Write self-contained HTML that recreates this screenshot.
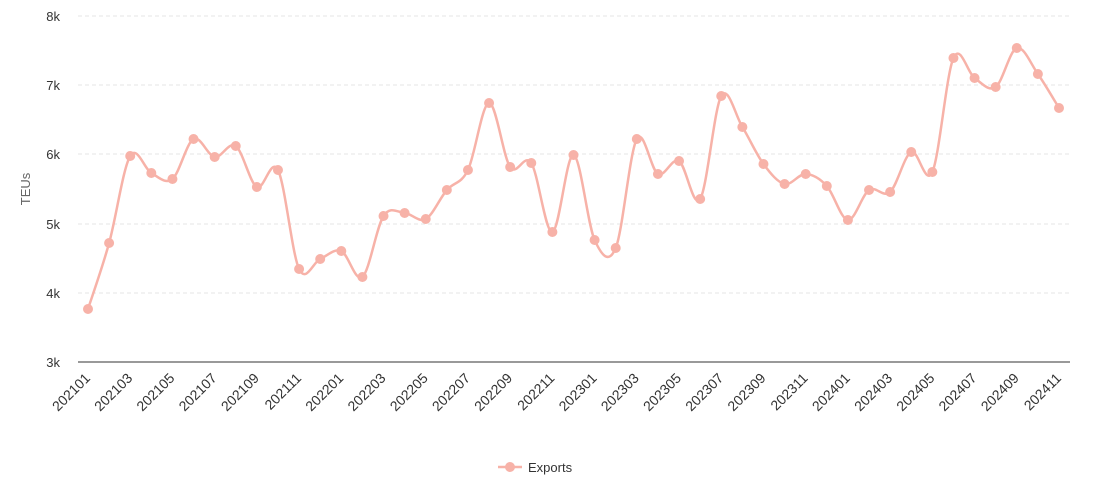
<!DOCTYPE html>
<html><head><meta charset="utf-8"><style>
body{margin:0;background:#fff;}
svg text{font-family:"Liberation Sans",sans-serif;font-size:13px;fill:#333;}
#xl text{font-size:14px;}
</style></head><body>
<svg id="s" width="1098" height="482" xmlns="http://www.w3.org/2000/svg">
<g stroke="#e6e6e6" stroke-dasharray="4,3">
<line x1="78" x2="1070" y1="16" y2="16"/><line x1="78" x2="1070" y1="85" y2="85"/>
<line x1="78" x2="1070" y1="154" y2="154"/><line x1="78" x2="1070" y1="224" y2="224"/>
<line x1="78" x2="1070" y1="293" y2="293"/>
</g>
<line x1="78" x2="1070" y1="362" y2="362" stroke="#333" stroke-width="1"/>
<g text-anchor="end">
<text x="60" y="21">8k</text><text x="60" y="90">7k</text><text x="60" y="159">6k</text>
<text x="60" y="229">5k</text><text x="60" y="298">4k</text><text x="60" y="367">3k</text>
</g>
<text x="30" y="189" text-anchor="middle" transform="rotate(-90,30,189)" style="fill:#666">TEUs</text>
<g id="xl" text-anchor="end"></g>
<path id="ln" fill="none" stroke="#f7b2a8" stroke-width="2.5"/>
<g id="pts" fill="#f7b2a8"></g>
<line x1="498" x2="522" y1="467" y2="467" stroke="#f7b2a8" stroke-width="2.5"/>
<circle cx="510" cy="467" r="5" fill="#f7b2a8"/>
<text x="528" y="472">Exports</text>
</svg>
<script>
var ys=[309,243,156,173,179,139,157,146,187,170,269,259,251,277,216,213,219,190,170,103,167,163,232,155,240,248,139,174,161,199,96,127,164,184,174,186,220,190,192,152,172,58,78,87,48,74,108];
var p=ys.map(function(y,i){return [88+i*(1059-88)/46,y];});
var d="M"+p[0][0]+","+p[0][1];
for(var i=0;i<p.length-1;i++){var a=p[i-1]||p[i],b=p[i],c=p[i+1],e=p[i+2]||c;
var k=1/6;d+=" C"+(b[0]+(c[0]-a[0])*k)+","+(b[1]+(c[1]-a[1])*k)+" "+(c[0]-(e[0]-b[0])*k)+","+(c[1]-(e[1]-b[1])*k)+" "+c[0]+","+c[1];}
document.getElementById("ln").setAttribute("d",d);
var ns="http://www.w3.org/2000/svg",g=document.getElementById("pts"),xl=document.getElementById("xl");
p.forEach(function(q,i){var c=document.createElementNS(ns,"circle");c.setAttribute("cx",q[0]);c.setAttribute("cy",q[1]);c.setAttribute("r",5);g.appendChild(c);
if(i%2==0){var yr=2021+Math.floor(i/12),m=i%12+1;var t=document.createElementNS(ns,"text");var x=q[0]+3,y=379;
t.setAttribute("x",x);t.setAttribute("y",y);t.setAttribute("transform","rotate(-45,"+x+","+y+")");t.textContent=yr+(m<10?"0":"")+m;xl.appendChild(t);}});
</script>
</body></html>
